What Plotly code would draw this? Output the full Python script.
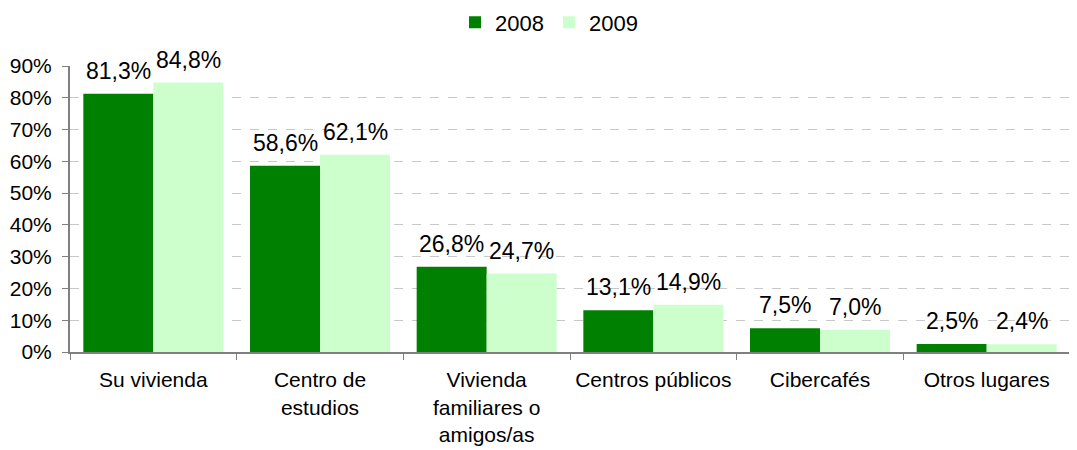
import plotly.graph_objects as go

categories = ["Su vivienda", "Centro de<br>estudios", "Vivienda<br>familiares o<br>amigos/as",
              "Centros públicos", "Cibercafés", "Otros lugares"]
values_2008 = [81.3, 58.6, 26.8, 13.1, 7.5, 2.5]
values_2009 = [84.8, 62.1, 24.7, 14.9, 7.0, 2.4]
tick_vals = [0, 10, 20, 30, 40, 50, 60, 70, 80, 90]
tick_text = ["0%", "10%", "20%", "30%", "40%", "50%", "60%", "70%", "80%", "90%"]


def fmt(v):
    return f"{v:.1f}".replace(".", ",") + "%"


fig = go.Figure()
fig.add_trace(go.Bar(name="2008", x=categories, y=values_2008,
                     marker=dict(color="#008000", line=dict(width=0))))
fig.add_trace(go.Bar(name="2009", x=categories, y=values_2009,
                     marker=dict(color="#CCFFCC", line=dict(width=0))))

# data labels above each bar
for series, shift in ((values_2008, -35), (values_2009, 35)):
    for c, v in zip(categories, series):
        fig.add_annotation(x=c, y=v, text=fmt(v), showarrow=False,
                           xshift=shift, yshift=8, yanchor="bottom",
                           font=dict(size=23, color="#000000"))

fig.update_layout(
    width=1077, height=450,
    barmode="group", bargap=0.16, bargroupgap=0,
    plot_bgcolor="white", paper_bgcolor="white",
    font=dict(family="Liberation Sans, Arial, sans-serif", size=21, color="#000000"),
    margin=dict(l=62, r=15, t=58, b=106, autoexpand=False),
    legend=dict(orientation="h", x=0.479, xanchor="center", y=1.152,
                yanchor="middle", font=dict(size=22), traceorder="normal"),
    xaxis=dict(showline=True, linecolor="#808080", linewidth=2, ticks="outside",
               tickson="boundaries", ticklen=6, tickcolor="#808080", tickwidth=1,
               tickfont=dict(size=21), automargin=False, ticklabelstandoff=8),
    yaxis=dict(range=[0, 90], tickvals=tick_vals, ticktext=tick_text,
               showline=True, linecolor="#808080", linewidth=2, ticks="outside",
               ticklen=6, tickcolor="#808080", showgrid=True, gridcolor="#C8C8C8",
               griddash="dash", gridwidth=1, zeroline=False, tickfont=dict(size=21),
               automargin=False, ticklabelstandoff=6),
)

fig.write_html("out.html")
